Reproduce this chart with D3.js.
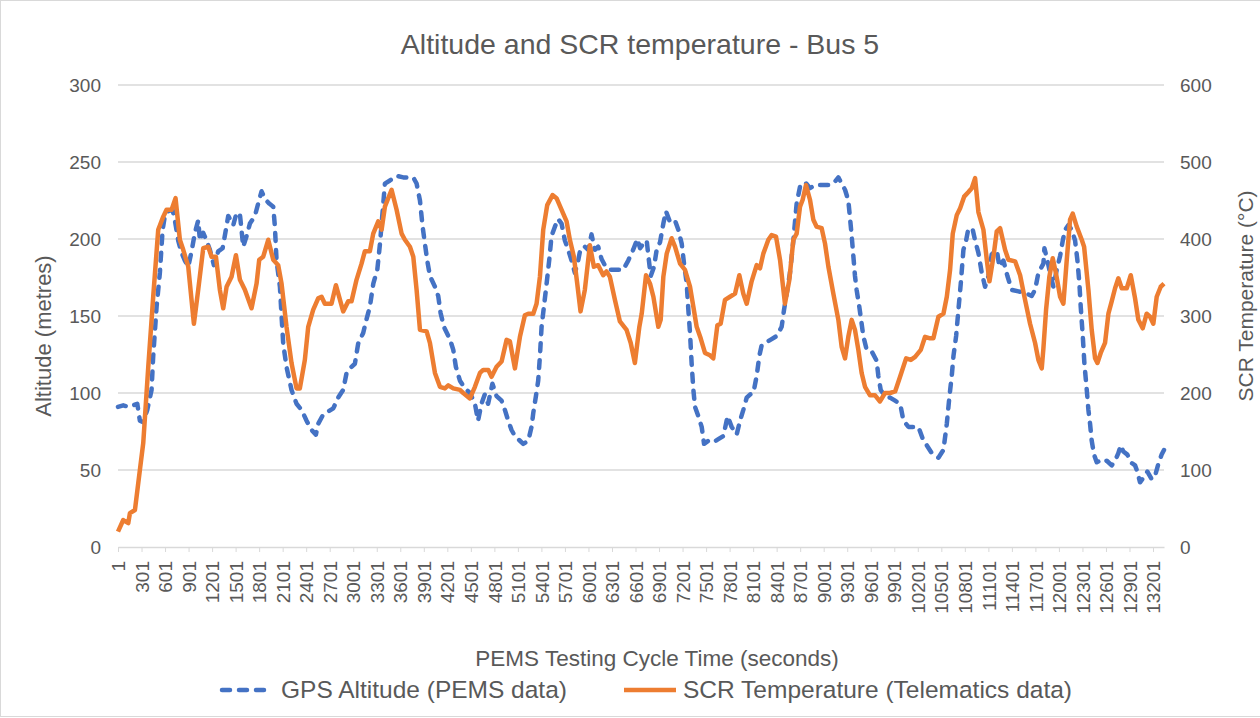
<!DOCTYPE html>
<html>
<head>
<meta charset="utf-8">
<script src="https://cdn.jsdelivr.net/npm/d3@7"></script>
<style>
  html, body { margin: 0; padding: 0; background: #fff; }
  svg { display: block; font-family: "Liberation Sans", Arial, sans-serif; }
</style>
</head>
<body>
<svg id="chart" width="1260" height="718"></svg>
<script>
// GPS altitude, [second, metres]
const altitude = [
  [1,91],[68,92],[132,91],[196,92],[247,93],[280,82],[323,81],[374,89],[429,102],[450,124],[493,156],[535,178],
  [570,206],[599,215],[642,218],[697,219],[727,212],[769,199],[812,191],[854,186],[897,182],[939,192],[982,204],
  [1024,212],[1046,199],[1088,204],[1131,199],[1173,193],[1224,183],[1279,192],[1335,194],[1377,206],[1407,215],
  [1471,209],[1513,217],[1556,216],[1598,195],[1641,202],[1683,210],[1747,215],[1789,223],[1832,231],[1874,226],
  [1930,223],[1981,221],[2002,208],[2023,186],[2066,169],[2087,150],[2108,132],[2150,117],[2214,102],[2278,93],
  [2342,89],[2406,82],[2469,76],[2525,73],[2554,80],[2618,86],[2682,88],[2746,90],[2809,97],[2873,102],[2916,113],
  [2979,117],[3022,119],[3064,132],[3128,139],[3171,148],[3213,156],[3257,171],[3308,180],[3342,197],[3384,223],
  [3405,236],[3469,238],[3554,241],[3639,240],[3767,240],[3809,236],[3852,225],[3886,208],[3915,197],[3945,186],
  [3979,176],[4043,169],[4085,163],[4115,152],[4157,143],[4234,135],[4277,128],[4310,117],[4362,108],[4425,103],
  [4489,100],[4553,93],[4593,82],[4636,93],[4678,99],[4721,93],[4776,106],[4829,98],[4893,95],[4935,89],[4978,82],
  [5020,76],[5063,72],[5127,69],[5169,67],[5233,69],[5275,78],[5297,87],[5331,98],[5360,108],[5382,124],[5403,143],
  [5433,156],[5467,171],[5500,186],[5530,202],[5573,208],[5615,213],[5658,210],[5700,199],[5743,193],[5785,186],
  [5828,178],[5870,186],[5900,194],[5955,195],[5998,193],[6040,203],[6083,193],[6125,195],[6168,187],[6210,183],
  [6274,180],[6359,180],[6444,180],[6508,186],[6571,193],[6625,200],[6659,194],[6701,197],[6744,199],[6765,189],
  [6795,176],[6837,182],[6871,193],[6914,198],[6956,210],[6990,218],[7041,211],[7105,212],[7147,206],[7190,197],
  [7220,184],[7254,171],[7275,154],[7296,139],[7317,119],[7339,102],[7360,91],[7402,85],[7445,78],[7475,67],
  [7530,69],[7593,68],[7657,70],[7721,72],[7776,85],[7827,78],[7891,73],[7934,82],[7976,89],[8019,97],[8061,99],
  [8104,100],[8146,111],[8180,124],[8210,131],[8274,133],[8337,135],[8401,137],[8465,143],[8495,154],[8537,167],
  [8571,178],[8614,199],[8656,223],[8699,234],[8762,237],[8826,233],[8890,235],[8975,235],[9060,235],[9124,236],
  [9188,240],[9230,236],[9273,232],[9315,225],[9336,214],[9358,202],[9379,189],[9400,176],[9421,167],[9455,156],
  [9485,145],[9506,137],[9549,128],[9613,127],[9676,121],[9698,111],[9728,102],[9783,98],[9847,97],[9911,95],
  [9976,93],[10018,82],[10082,78],[10146,78],[10209,78],[10273,69],[10316,66],[10379,61],[10464,58],[10528,63],
  [10571,80],[10605,98],[10634,111],[10656,124],[10690,137],[10719,154],[10749,171],[10783,193],[10817,199],
  [10847,207],[10902,206],[10932,199],[10974,191],[11017,178],[11059,169],[11102,176],[11144,190],[11208,193],
  [11242,182],[11293,186],[11344,176],[11399,167],[11484,166],[11569,165],[11654,163],[11697,167],[11739,178],
  [11803,184],[11816,194],[11854,186],[11888,178],[11930,169],[11973,180],[12016,189],[12050,199],[12080,206],
  [12122,209],[12164,206],[12207,199],[12237,186],[12262,171],[12279,156],[12305,137],[12326,119],[12356,102],
  [12377,89],[12398,80],[12419,69],[12449,60],[12483,55],[12526,56],[12568,55],[12611,56],[12674,53],[12717,56],
  [12759,61],[12789,66],[12823,62],[12874,60],[12917,55],[12972,53],[13001,49],[13035,42],[13078,45],[13129,49],
  [13184,44],[13226,46],[13269,54],[13311,60],[13341,63]
];

// SCR temperature, [second, degC]
const scrTemp = [
  [1,20],[68,35],[132,31],[153,44],[217,48],[280,100],[323,135],[387,234],[450,325],[514,412],[578,429],[620,438],
  [684,438],[735,453],[790,399],[833,386],[897,364],[969,290],[1024,334],[1088,388],[1152,390],[1194,377],[1250,377],
  [1300,334],[1343,310],[1386,338],[1449,351],[1505,379],[1556,347],[1619,334],[1704,310],[1768,342],[1802,373],
  [1853,377],[1917,399],[1981,373],[2044,366],[2087,342],[2150,286],[2214,239],[2278,206],[2320,206],[2384,243],
  [2427,286],[2490,308],[2554,323],[2597,325],[2639,316],[2724,316],[2780,340],[2873,306],[2937,319],[2979,319],
  [3043,347],[3107,368],[3149,384],[3213,384],[3256,407],[3320,423],[3363,412],[3405,442],[3490,464],[3554,438],
  [3618,407],[3660,399],[3724,390],[3767,377],[3809,334],[3852,282],[3937,280],[3979,265],[4043,226],[4107,208],
  [4170,206],[4213,210],[4277,206],[4362,204],[4404,200],[4489,193],[4553,208],[4617,226],[4659,230],[4723,230],
  [4765,221],[4829,234],[4893,241],[4957,269],[4999,267],[5063,232],[5127,273],[5190,301],[5233,303],[5297,303],
  [5339,316],[5382,351],[5424,412],[5475,444],[5543,457],[5594,453],[5679,433],[5722,423],[5764,399],[5815,377],
  [5858,342],[5900,306],[5955,334],[6019,392],[6070,364],[6125,366],[6189,353],[6231,358],[6274,351],[6338,321],
  [6402,293],[6487,282],[6540,265],[6593,239],[6650,286],[6680,303],[6735,353],[6786,342],[6829,325],[6892,286],
  [6922,295],[6956,351],[6999,381],[7062,401],[7105,390],[7169,368],[7232,360],[7296,338],[7339,312],[7381,286],
  [7432,271],[7487,252],[7551,249],[7593,245],[7645,288],[7687,290],[7742,321],[7806,325],[7870,329],[7925,353],
  [7976,329],[8019,316],[8082,345],[8146,366],[8189,362],[8231,381],[8295,399],[8337,405],[8393,403],[8444,373],
  [8507,316],[8563,347],[8614,399],[8656,407],[8699,442],[8733,451],[8775,470],[8826,451],[8869,425],[8911,416],
  [8975,414],[9018,394],[9061,364],[9124,329],[9188,295],[9230,260],[9273,245],[9315,273],[9358,295],[9400,282],
  [9443,256],[9485,226],[9528,208],[9592,197],[9656,197],[9719,189],[9783,200],[9847,200],[9912,202],[9975,221],
  [10052,245],[10112,243],[10167,247],[10239,256],[10294,273],[10358,271],[10400,271],[10443,290],[10464,299],
  [10528,303],[10571,325],[10613,360],[10647,407],[10698,431],[10741,440],[10792,455],[10847,461],[10889,466],
  [10932,479],[10974,435],[11038,412],[11081,373],[11115,345],[11166,377],[11208,410],[11251,414],[11314,386],
  [11357,373],[11442,371],[11506,353],[11569,321],[11633,290],[11697,265],[11739,243],[11782,232],[11803,258],
  [11837,308],[11879,351],[11922,375],[11964,355],[12016,325],[12058,316],[12101,373],[12143,425],[12177,433],
  [12228,416],[12292,399],[12322,390],[12377,334],[12419,282],[12462,245],[12492,239],[12534,252],[12589,265],
  [12632,303],[12674,319],[12717,336],[12759,349],[12802,336],[12866,336],[12917,353],[12972,323],[13014,295],
  [13069,284],[13120,303],[13163,299],[13205,290],[13248,325],[13299,338],[13341,342]
];

const xTicks = [1,301,601,901,1201,1501,1801,2101,2401,2701,3001,3301,3601,3901,4201,4501,4801,5101,5401,5701,
  6001,6301,6601,6901,7201,7501,7801,8101,8401,8701,9001,9301,9601,9901,10201,10501,10801,11101,11401,11701,
  12001,12301,12601,12901,13201];
const leftTicks = [0,50,100,150,200,250,300];
const rightTicks = [0,100,200,300,400,500,600];

const TEXT = '#595959', GRID = '#d9d9d9';
const BLUE = '#4472c4', ORANGE = '#ed7d31';
const FONT = '"Liberation Sans", Arial, sans-serif';

const svg = d3.select('#chart');
const L = 118, R = 1164, T = 85, B = 547;

const x = d3.scaleLinear().domain([1, 13341]).range([L, R]);
const yL = d3.scaleLinear().domain([0, 300]).range([B, T]);
const yR = d3.scaleLinear().domain([0, 600]).range([B, T]);

// chart border
svg.append('rect').attr('x', 0.5).attr('y', 0.5).attr('width', 1300).attr('height', 716)
  .attr('fill', 'none').attr('stroke', GRID);

// gridlines
svg.append('g').selectAll('line').data(leftTicks.slice(1)).join('line')
  .attr('x1', L).attr('x2', R).attr('y1', d => yL(d)).attr('y2', d => yL(d))
  .attr('stroke', GRID).attr('stroke-width', 1.3);

// x axis
const gx = svg.append('g').attr('transform', 'translate(0,' + B + ')')
  .call(d3.axisBottom(x).tickValues(xTicks).tickSize(5).tickSizeOuter(0).tickFormat(d3.format('d')));
gx.select('.domain').attr('stroke', GRID).attr('stroke-width', 1.3);
gx.selectAll('.tick line').attr('stroke', GRID);
gx.selectAll('.tick text')
  .attr('transform', 'rotate(-90)').attr('text-anchor', 'end')
  .attr('x', -14).attr('y', 0).attr('dy', '0.35em')
  .attr('fill', TEXT).style('font-size', '19px').style('font-family', FONT);

// left axis
const gl = svg.append('g').attr('transform', 'translate(' + (L - 17) + ',0)')
  .call(d3.axisLeft(yL).tickValues(leftTicks).tickSize(0));
gl.select('.domain').remove();
gl.selectAll('text').attr('x', 0).attr('fill', TEXT).style('font-size', '19px').style('font-family', FONT);

// right axis
const gr = svg.append('g').attr('transform', 'translate(' + (R + 16) + ',0)')
  .call(d3.axisRight(yR).tickValues(rightTicks).tickSize(0));
gr.select('.domain').remove();
gr.selectAll('text').attr('x', 0).attr('fill', TEXT).style('font-size', '19px').style('font-family', FONT);

// lines
const altLine = d3.line().x(d => x(d[0])).y(d => yL(d[1]));
const tempLine = d3.line().x(d => x(d[0])).y(d => yR(d[1]));

svg.append('path').datum(altitude).attr('d', altLine)
  .attr('fill', 'none').attr('stroke', BLUE).attr('stroke-width', 4.5)
  .attr('stroke-dasharray', '8,9').attr('stroke-linecap', 'round').attr('stroke-linejoin', 'round');

svg.append('path').datum(scrTemp).attr('d', tempLine)
  .attr('fill', 'none').attr('stroke', ORANGE).attr('stroke-width', 4.5)
  .attr('stroke-linejoin', 'round');

// titles
svg.append('text').attr('x', 640).attr('y', 54).attr('text-anchor', 'middle')
  .attr('fill', TEXT).style('font-size', '28.5px').text('Altitude and SCR temperature - Bus 5');

svg.append('text').attr('x', 657).attr('y', 666).attr('text-anchor', 'middle')
  .attr('fill', TEXT).style('font-size', '22.5px').text('PEMS Testing Cycle Time (seconds)');

svg.append('text').attr('transform', 'translate(51,336) rotate(-90)')
  .attr('text-anchor', 'middle').attr('fill', TEXT).style('font-size', '22px').text('Altitude (metres)');

svg.append('text').attr('transform', 'translate(1253,296) rotate(-90)')
  .attr('text-anchor', 'middle').attr('fill', TEXT).style('font-size', '21px').text('SCR Temperature (°C)');

// legend
const legend = svg.append('g');
legend.append('line').attr('x1', 222).attr('x2', 270).attr('y1', 690).attr('y2', 690)
  .attr('stroke', BLUE).attr('stroke-width', 4.5).attr('stroke-dasharray', '8,9').attr('stroke-linecap', 'round');
legend.append('text').attr('x', 281).attr('y', 698).attr('fill', TEXT).style('font-size', '24.5px')
  .text('GPS Altitude (PEMS data)');
legend.append('line').attr('x1', 624).attr('x2', 676).attr('y1', 690).attr('y2', 690)
  .attr('stroke', ORANGE).attr('stroke-width', 4.5);
legend.append('text').attr('x', 683).attr('y', 698).attr('fill', TEXT).style('font-size', '24.5px')
  .text('SCR Temperature (Telematics data)');
</script>
</body>
</html>
